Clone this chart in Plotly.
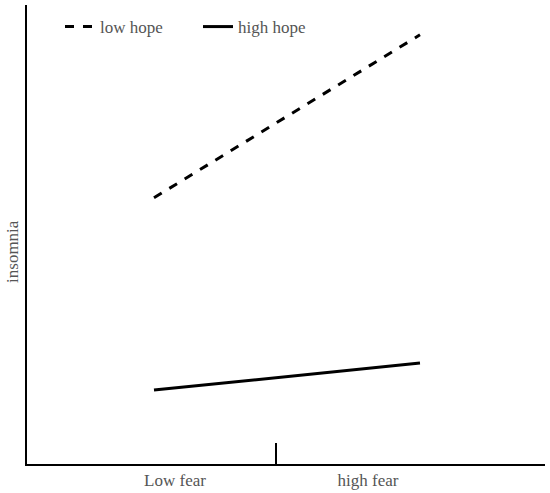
import plotly.graph_objects as go

fear_levels = [1, 2]
low_hope = [5.8, 9.35]
high_hope = [1.61, 2.2]
series_names = ["low hope", "high hope"]
tick_labels = ["Low fear", "high fear"]
tick_label_pos = [1.079, 1.8045]
divider_pos = [1.4586]
y_title = "insomnia"

fam = "Liberation Serif, Times New Roman, serif"
grey = "#555555"
tick_font = dict(family=fam, size=17, color=grey)
legend_font = dict(family=fam, size=17, color=grey)

fig = go.Figure()
fig.add_trace(go.Scatter(x=fear_levels, y=low_hope, mode="lines", name=series_names[0],
                         line=dict(color="black", width=3, dash="dash")))
fig.add_trace(go.Scatter(x=fear_levels, y=high_hope, mode="lines", name=series_names[1],
                         line=dict(color="black", width=3)))
# invisible trace to activate the overlaying axis with the divider tick
fig.add_trace(go.Scatter(x=divider_pos, y=[0], xaxis="x2", mode="markers",
                         marker=dict(opacity=0), showlegend=False, hoverinfo="skip"))

xr = [0.5226, 2.47]
fig.update_layout(
    width=550, height=493,
    margin=dict(l=27, r=5, t=5, b=29, autoexpand=False),
    plot_bgcolor="white", paper_bgcolor="white",
    font=tick_font,
    showlegend=True,
    legend=dict(orientation="h", x=0.0637, y=0.952, xanchor="left", yanchor="middle",
                bgcolor="rgba(0,0,0,0)", font=legend_font, entrywidth=93,
                entrywidthmode="pixels", itemwidth=30),
    xaxis=dict(range=xr, showgrid=False, zeroline=False, showline=True, linecolor="black",
               linewidth=2, tickvals=tick_label_pos, ticktext=tick_labels, ticks="",
               tickfont=tick_font),
    xaxis2=dict(range=xr, overlaying="x", side="bottom", showgrid=False, zeroline=False,
                showline=False, tickvals=divider_pos, ticks="inside", ticklen=21,
                tickwidth=2, tickcolor="black", showticklabels=False),
    yaxis=dict(range=[0, 10], showgrid=False, zeroline=False, showline=True, linecolor="black",
               linewidth=2, showticklabels=False, ticks=""),
    annotations=[dict(text=y_title, xref="paper", yref="paper", x=-0.027, y=0.462,
                      xanchor="center", yanchor="middle", textangle=-90,
                      showarrow=False, font=legend_font)],
)

fig.write_html("out.html", config={"displayModeBar": False},
               post_script="document.body.style.margin='0';")
